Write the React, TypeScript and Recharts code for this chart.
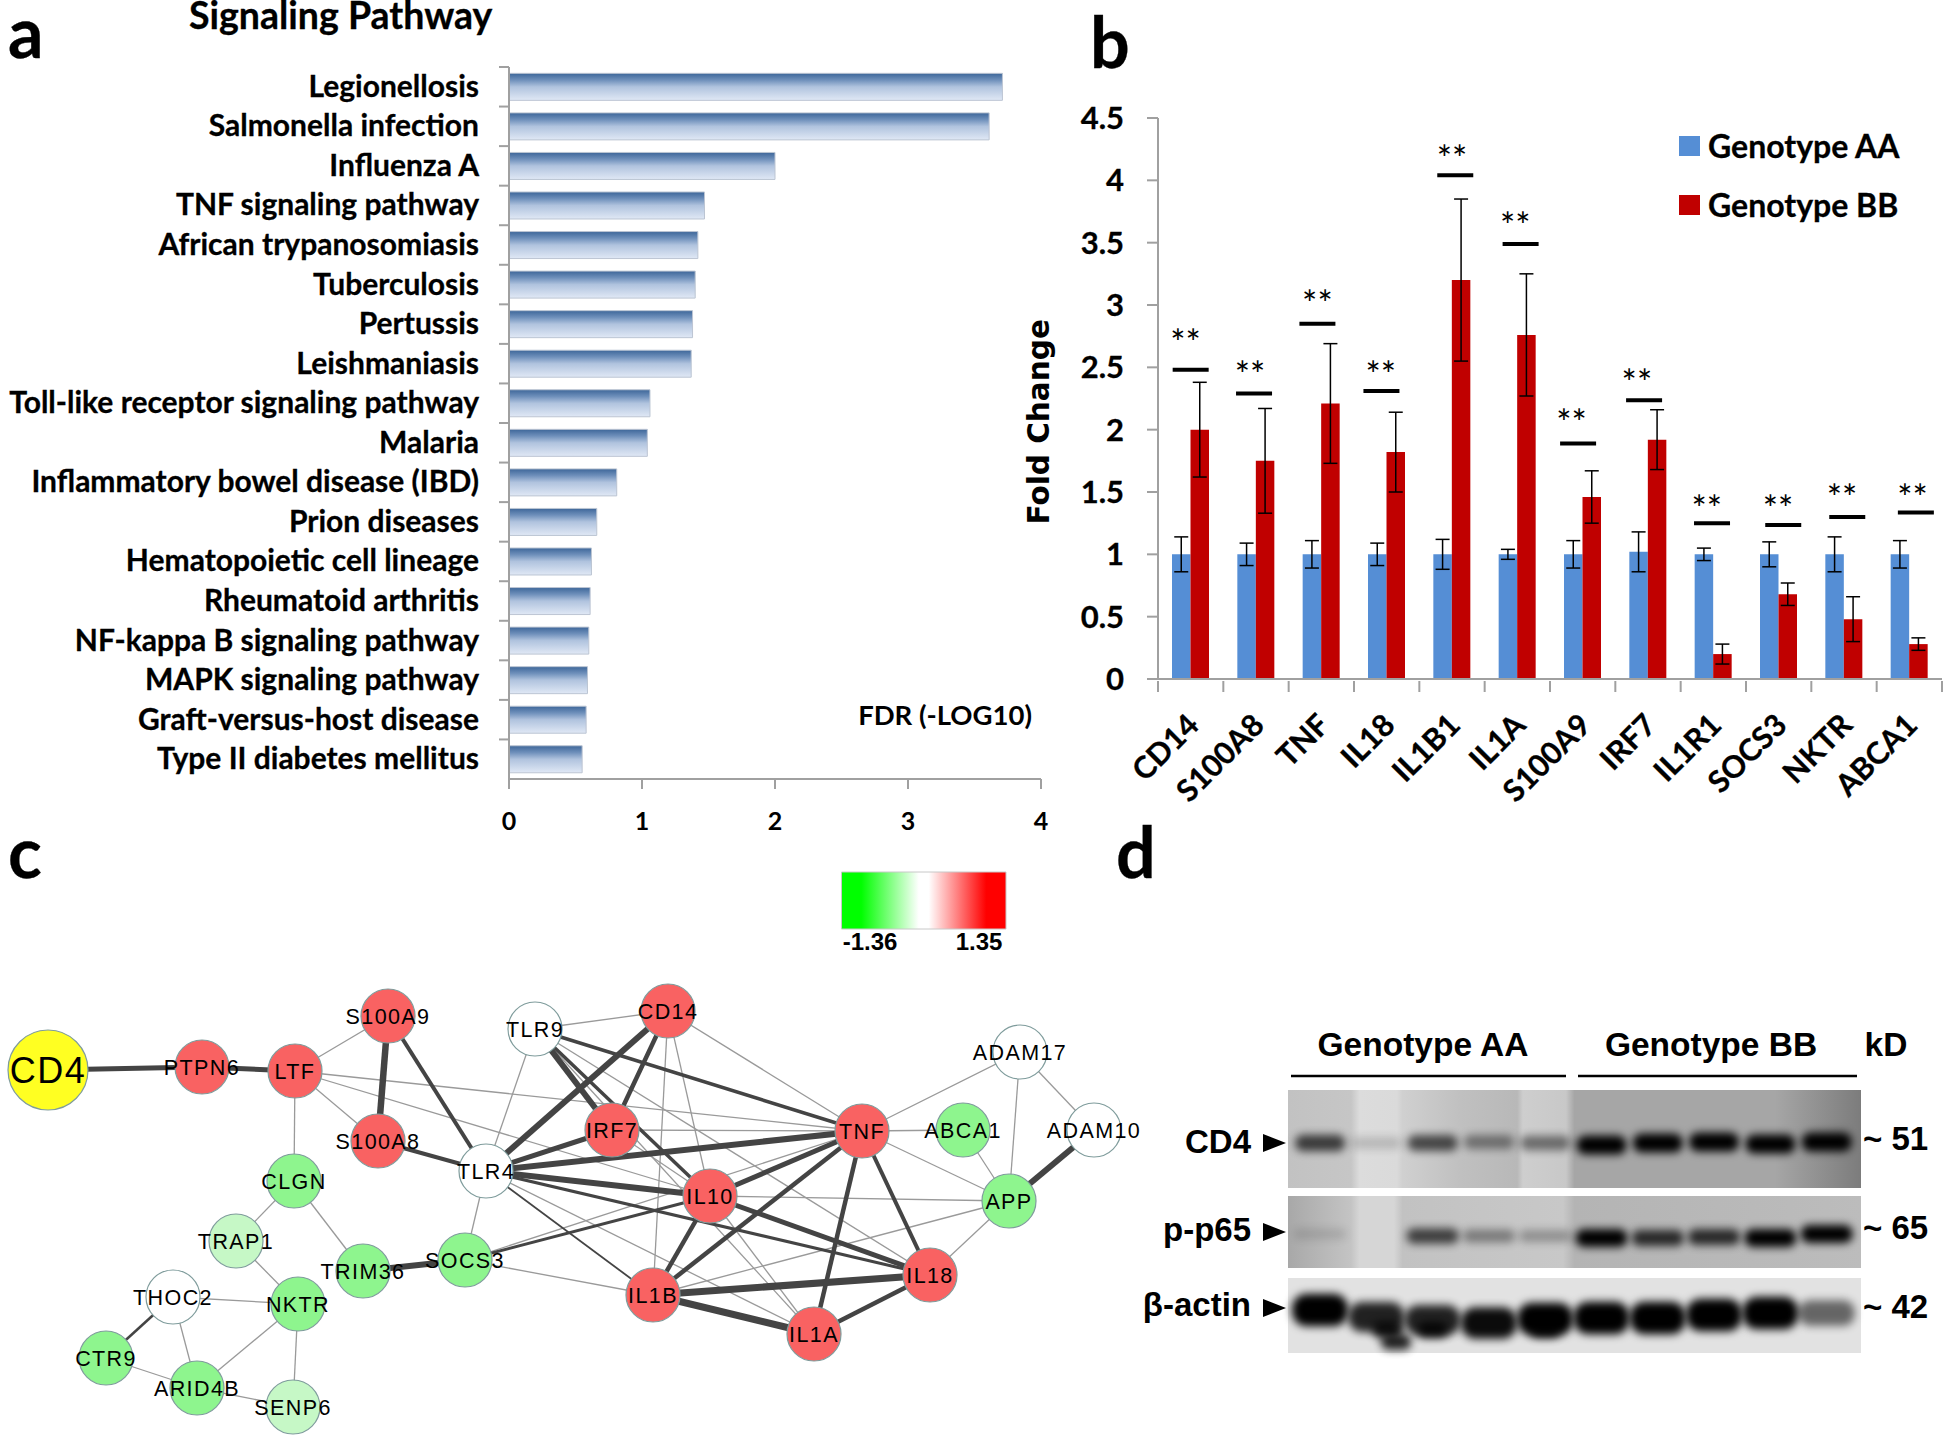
import React from 'react';
import {
  BarChart, Bar, XAxis, YAxis, ErrorBar, Legend, ScatterChart, Scatter, ReferenceArea,
} from 'recharts';

// ---------- panel a ----------
const pathways = ['Legionellosis','Salmonella infection','Influenza A','TNF signaling pathway','African trypanosomiasis','Tuberculosis','Pertussis','Leishmaniasis','Toll-like receptor signaling pathway','Malaria','Inflammatory bowel disease (IBD)','Prion diseases','Hematopoietic cell lineage','Rheumatoid arthritis','NF-kappa B signaling pathway','MAPK signaling pathway','Graft-versus-host disease','Type II diabetes mellitus'];
const fdr = [3.71,3.61,2.0,1.47,1.42,1.4,1.38,1.37,1.06,1.04,0.81,0.66,0.62,0.61,0.6,0.59,0.58,0.55];
const fdrTicks = [0,1,2,3,4];

// ---------- panel b ----------
const genes = ['CD14','S100A8','TNF','IL18','IL1B1','IL1A','S100A9','IRF7','IL1R1','SOCS3','NKTR','ABCA1'];
const aaValues = [1,1,1,1,1,1,1,1.02,1,1,1,1];
const aaErrors = [0.14,0.09,0.11,0.09,0.12,0.04,0.11,0.16,0.05,0.1,0.14,0.11];
const bbValues = [2.0,1.75,2.21,1.82,3.2,2.76,1.46,1.92,0.2,0.68,0.48,0.28];
const bbErrors = [0.38,0.42,0.48,0.32,0.65,0.49,0.21,0.24,0.08,0.09,0.18,0.05];
const foldTicks = [0,0.5,1,1.5,2,2.5,3,3.5,4,4.5];
const sigX = [0.5,1.47,2.44,3.42,4.55,5.55,6.43,7.44,8.48,9.57,10.55,11.6];
const sigY = [2.48,2.29,2.85,2.31,4.04,3.49,1.89,2.235,1.25,1.235,1.3,1.335];
const starX = [0.42,1.41,2.44,3.41,4.5,5.47,6.33,7.33,8.4,9.49,10.47,11.55];
const starY = [2.74,2.49,3.06,2.49,4.22,3.68,2.1,2.42,1.41,1.41,1.5,1.5];

// ---------- panel c ----------
const nodeNames = ['CD4','PTPN6','LTF','S100A9','S100A8','TLR9','TLR4','CLGN','TRAP1','TRIM36','SOCS3','THOC2','NKTR','CTR9','ARID4B','SENP6','CD14','IRF7','TNF','ABCA1','ADAM17','ADAM10','APP','IL10','IL18','IL1B','IL1A'];
const nodeX = [48,202,295,388,378,535,486,294,236,363,465,173,298,106,197,293,668,612,862,963,1020,1094,1009,710,930,653,814];
const nodeY = [1070,1067,1071,1016,1141,1029,1171,1181,1241,1271,1260,1297,1304,1358,1388,1407,1011,1130,1131,1130,1052,1130,1201,1196,1275,1295,1334];
const nodeColors = ['#ffff22','#f96262','#f96262','#f96262','#f96262','#ffffff','#ffffff','#8ef58e','#c6f8c6','#8ef58e','#8ef58e','#ffffff','#8ef58e','#8ef58e','#8ef58e','#c6f8c6','#f96262','#f96262','#f96262','#8ef58e','#ffffff','#ffffff','#8ef58e','#f96262','#f96262','#f96262','#f96262'];
const heavyEdges: [string,string,number][] = [
  ['CD4','PTPN6',5],['PTPN6','LTF',5],['S100A9','S100A8',6.5],['S100A9','TLR4',4],['S100A8','TLR4',4],
  ['TLR4','CD14',6],['TLR4','IRF7',5],['TLR4','TNF',6],['TLR4','IL10',6],['TLR4','IL18',3],['TLR4','IL1B',1.8],
  ['TLR9','IRF7',6],['TLR9','IL10',3.5],['TLR9','TNF',3.5],['CD14','IRF7',4.5],['IL10','TNF',5],['IL10','IL1B',4.5],
  ['IL10','IL18',5],['TNF','IL1B',4.5],['TNF','IL1A',4.5],['TNF','IL18',4],['IL1B','IL18',7],['IL1B','IL1A',7],
  ['IL1A','IL18',4.5],['IL10','SOCS3',3],['TRIM36','SOCS3',6],['APP','ADAM10',6],['THOC2','CTR9',2.5],
];
const lightEdges: [string,string][] = [
  ['LTF','S100A9'],['LTF','S100A8'],['LTF','CLGN'],['LTF','TNF'],['LTF','IL10'],['TLR9','TLR4'],['TLR9','CD14'],
  ['TLR9','IL18'],['TLR9','IL1A'],['TLR4','SOCS3'],['TLR4','IL1A'],['TLR4','IL18'],['SOCS3','IL1B'],['SOCS3','TNF'],
  ['CD14','IL1B'],['CD14','IL10'],['CD14','TNF'],['IRF7','TNF'],['IRF7','IL10'],['TNF','ADAM17'],['TNF','ABCA1'],
  ['TNF','APP'],['ABCA1','APP'],['ADAM17','APP'],['ADAM17','ADAM10'],['APP','IL10'],['APP','IL1B'],['APP','IL18'],
  ['IL10','IL1A'],['CLGN','TRAP1'],['CLGN','TRIM36'],['TRAP1','NKTR'],['THOC2','NKTR'],['THOC2','ARID4B'],
  ['NKTR','ARID4B'],['NKTR','SENP6'],['CTR9','ARID4B'],['ARID4B','SENP6'],
];

// ---------- panel d ----------
const lanes = [1,2,3,4,5,6,7,8,9,10];
const cd4Band = [0.7,0.16,0.65,0.42,0.48,1,1,1,1,1];
const cd4BandY = [1143,1143,1143,1142,1143,1145,1143,1142,1144,1142];
const p65Band = [0.12,0,0.68,0.38,0.28,1,0.78,0.78,1,1];
const p65BandY = [1234,1234,1236,1236,1236,1238,1238,1237,1238,1234];
const actinBand = [1,0.85,0.85,0.95,1,1,1,1,1,0.55];
const actinBandY = [1310,1317,1320,1323,1319,1318,1318,1315,1313,1313];
const actinSmearLane = [2.2,2.35,3.0,5.0];
const actinSmearY = [1330,1342,1330,1330];

const LATO = 'Lato, sans-serif';
const ARIAL = '"Liberation Sans", Arial, sans-serif';
const pathwayRows = pathways.map((name, i) => ({ name, value: fdr[i] }));
const geneRows = genes.map((name, i) => ({ name, aa: aaValues[i], aaErr: aaErrors[i], bb: bbValues[i], bbErr: bbErrors[i] }));
const sigRows = sigX.map((x, i) => ({ x, y: sigY[i] }));
const starRows = starX.map((x, i) => ({ x, y: starY[i] }));

const BAND_A = 712 / 18;
const BAND_B = 784 / 12;

const PathwayTick = (p: any) => (
  <g>
    <line x1={p.x} x2={p.x - 10} y1={p.y - BAND_A / 2} y2={p.y - BAND_A / 2} stroke="#a0a0a0" strokeWidth={2} />
    <text x={p.x - 30} y={p.y + 10} textAnchor="end" fontFamily={LATO} fontWeight={700} fontSize={30} stroke="#000" strokeWidth={0.3} fill="#000">{p.payload.value}</text>
  </g>
);
const GeneTick = (p: any) => (
  <g>
    <line x1={p.x - BAND_B / 2} x2={p.x - BAND_B / 2} y1={p.y} y2={p.y + 11} stroke="#a0a0a0" strokeWidth={2} />
    {p.index === genes.length - 1 && <line x1={p.x + BAND_B / 2} x2={p.x + BAND_B / 2} y1={p.y} y2={p.y + 11} stroke="#a0a0a0" strokeWidth={2} />}
    <text x={p.x + 10} y={p.y + 46} textAnchor="end" transform={`rotate(-45 ${p.x + 10} ${p.y + 46})`} fontFamily={LATO} fontWeight={700} fontSize={30.5} stroke="#000" strokeWidth={0.3} fill="#000">{p.payload.value}</text>
  </g>
);
const SigLine = (p: any) => <line x1={p.cx - 18} x2={p.cx + 18} y1={p.cy} y2={p.cy} stroke="#000" strokeWidth={4} />;
const SigStars = (p: any) => <text x={p.cx} y={p.cy + 19} textAnchor="middle" fontFamily={LATO} fontSize={36} fill="#000">**</text>;
const NodeMark = (p: any) => {
  const big = p.payload.name === 'CD4';
  return (
    <g>
      <circle cx={p.cx} cy={p.cy} r={big ? 40 : 27} fill={p.payload.color} stroke="#7f9c9c" strokeWidth={1.2} />
      <text x={p.cx} y={p.cy + (big ? 13 : 8)} textAnchor="middle" fontFamily={ARIAL} fontSize={big ? 36 : 21.5} letterSpacing={big ? 1.5 : 1.4} fill="#000">{p.payload.name}</text>
    </g>
  );
};
const BlotBand = (h: number, w: number) => (p: any) => {
  const a = p.payload.a;
  const bh = h * (0.65 + 0.55 * a);
  return <rect x={p.cx - w / 2} y={p.cy - bh / 2} width={w} height={bh} rx={bh / 2.2} fill="#000" opacity={a} filter="url(#blotBlur)" />;
};
const LegendBox = () => (
  <div style={{ fontFamily: LATO, fontWeight: 700, fontSize: 32, color: '#000', WebkitTextStroke: '0.3px #000' }}>
    {[['Genotype AA', '#558ed5'], ['Genotype BB', '#c00000']].map(([t, c]) => (
      <div key={t} style={{ display: 'flex', alignItems: 'center', height: 59 }}>
        <span style={{ width: 21, height: 20, background: c, marginRight: 8 }} />{t}
      </div>
    ))}
  </div>
);
const Caption = ({ x, base, size, lh, children }: any) => (
  <div style={{ position: 'absolute', left: x, top: base - (lh - size * 1.2) / 2 - size * 0.987, fontFamily: LATO, fontWeight: 700, fontSize: size, lineHeight: `${lh}px`, color: '#000', whiteSpace: 'nowrap', WebkitTextStroke: '0.3px #000' }}>{children}</div>
);

const edgeLine = (a: string, b: string, w: number, stroke: string, key: string) => {
  const i = nodeNames.indexOf(a); const j = nodeNames.indexOf(b);
  return (
    <Scatter key={key} data={[{ x: nodeX[i], y: nodeY[i] }, { x: nodeX[j], y: nodeY[j] }]}
      line={{ stroke, strokeWidth: w }} shape={() => <g />} isAnimationActive={false} />
  );
};
const nodeRows = nodeNames.map((name, i) => ({ name, x: nodeX[i], y: nodeY[i], color: nodeColors[i] }));
const bandRows = (a: number[], y: number[]) => lanes.map((x, i) => ({ x, y: y[i], a: a[i] }));

const abs = (l: number, t: number, w: number, h: number): React.CSSProperties => ({ position: 'absolute', left: l, top: t, width: w, height: h });

export default function App() {
  return (
    <div style={{ position: 'absolute', left: 0, top: 0, width: 1946, height: 1448, background: '#fff', overflow: 'hidden' }}>
      {/* panel a */}
      <div style={abs(0, 0, 1060, 840)}>
        <BarChart width={1060} height={840} data={pathwayRows} layout="vertical" barCategoryGap="16%"
          margin={{ top: 67, bottom: 31, left: 0, right: 19 }}>
          <defs>
            <linearGradient id="barA" x1="0" y1="0" x2="0" y2="1">
              <stop offset="0" stopColor="#3d6699" />
              <stop offset="0.25" stopColor="#6f90bb" />
              <stop offset="0.5" stopColor="#b0c3de" />
              <stop offset="1" stopColor="#e0e8f5" />
            </linearGradient>
          </defs>
          <XAxis type="number" domain={[0, 4]} ticks={fdrTicks} stroke="#a0a0a0" strokeWidth={2} tickSize={10} tickMargin={23}
            tick={{ fontFamily: LATO, fontWeight: 700, fontSize: 25, fill: '#000' }} />
          <YAxis type="category" dataKey="name" width={509} interval={0} tickLine={false} tickSize={0} tickMargin={0}
            stroke="#a0a0a0" strokeWidth={2} tick={PathwayTick} />
          <Bar dataKey="value" fill="url(#barA)" stroke="#bcc5d3" strokeWidth={1} isAnimationActive={false} />
        </BarChart>
      </div>

      {/* panel b */}
      <div style={abs(1000, 60, 946, 780)}>
        <BarChart width={946} height={780} data={geneRows} barGap={0} barSize={18.5}
          margin={{ top: 58, bottom: 101, left: 0, right: 4 }}>
          <XAxis dataKey="name" interval={0} height={60} tickLine={false} tickSize={0} stroke="#a0a0a0" strokeWidth={2} tick={GeneTick} />
          <YAxis domain={[0, 4.5]} ticks={foldTicks} width={158} stroke="#a0a0a0" strokeWidth={2} tickSize={11} tickMargin={23}
            tick={{ fontFamily: LATO, fontWeight: 700, fontSize: 31, fill: '#000', stroke: '#000', strokeWidth: 0.3 }}
            label={{ value: 'Fold Change', angle: -90, position: 'insideLeft', dx: 34, dy: 126,
              style: { fontFamily: '"DejaVu Sans", sans-serif', fontWeight: 700, fontSize: 29.5, fill: '#000' } }} />
          <Legend layout="vertical" align="center" verticalAlign="middle" content={LegendBox}
            wrapperStyle={{ left: 679, top: 56, width: 260 }} />
          <Bar dataKey="aa" name="Genotype AA" fill="#558ed5" isAnimationActive={false}>
            <ErrorBar dataKey="aaErr" width={7} stroke="#000" strokeWidth={1.5} isAnimationActive={false} />
          </Bar>
          <Bar dataKey="bb" name="Genotype BB" fill="#c00000" isAnimationActive={false}>
            <ErrorBar dataKey="bbErr" width={7} stroke="#000" strokeWidth={1.5} isAnimationActive={false} />
          </Bar>
        </BarChart>
      </div>
      <div style={abs(1000, 60, 946, 780)}>
        <ScatterChart width={946} height={780} margin={{ top: 58, bottom: 161, left: 158, right: 4 }}>
          <XAxis type="number" dataKey="x" domain={[0, 12]} hide />
          <YAxis type="number" dataKey="y" domain={[0, 4.5]} hide />
          <Scatter data={sigRows} shape={SigLine} isAnimationActive={false} />
          <Scatter data={starRows} shape={SigStars} isAnimationActive={false} />
        </ScatterChart>
      </div>

      {/* panel c */}
      <div style={abs(0, 840, 1200, 608)}>
        <ScatterChart width={1200} height={608} margin={{ top: 0, bottom: 0, left: 0, right: 0 }}>
          <defs>
            <linearGradient id="heat" x1="0" y1="0" x2="1" y2="0">
              <stop offset="0" stopColor="#00ff00" />
              <stop offset="0.12" stopColor="#00ff00" />
              <stop offset="0.47" stopColor="#ffffff" />
              <stop offset="0.53" stopColor="#ffffff" />
              <stop offset="0.88" stopColor="#ff0000" />
              <stop offset="1" stopColor="#ff0000" />
            </linearGradient>
          </defs>
          <XAxis type="number" dataKey="x" domain={[0, 1200]} hide />
          <YAxis type="number" dataKey="y" domain={[840, 1448]} reversed hide />
          <ReferenceArea x1={841.5} x2={1006} y1={872} y2={929} fill="url(#heat)" fillOpacity={1} stroke="#c8c8c8" />
          {lightEdges.map(([a, b], i) => edgeLine(a, b, 1.3, '#9a9a9a', `l${i}`))}
          {heavyEdges.map(([a, b, w], i) => edgeLine(a, b, w, '#444444', `h${i}`))}
          <Scatter data={nodeRows} shape={NodeMark} isAnimationActive={false} />
        </ScatterChart>
      </div>

      {/* panel d */}
      <div style={abs(1130, 1010, 816, 370)}>
        <ScatterChart width={816} height={370} margin={{ top: 80, bottom: 27, left: 158, right: 85 }}>
          <defs>
            <filter id="blotBlur" x="-40%" y="-150%" width="180%" height="400%">
              <feGaussianBlur stdDeviation="4.2" />
            </filter>
            <linearGradient id="bgCd4" x1="0" y1="0" x2="1" y2="0">
              <stop offset="0" stopColor="#c2c2c2" />
              <stop offset="0.11" stopColor="#c6c6c6" />
              <stop offset="0.125" stopColor="#dcdcdc" />
              <stop offset="0.19" stopColor="#dadada" />
              <stop offset="0.2" stopColor="#d0d0d0" />
              <stop offset="0.3" stopColor="#c0c0c0" />
              <stop offset="0.4" stopColor="#b8b8b8" />
              <stop offset="0.41" stopColor="#cecece" />
              <stop offset="0.485" stopColor="#c8c8c8" />
              <stop offset="0.5" stopColor="#a6a6a6" />
              <stop offset="0.85" stopColor="#a6a6a6" />
              <stop offset="1" stopColor="#7c7c7c" />
            </linearGradient>
            <linearGradient id="bgP65" x1="0" y1="0" x2="1" y2="0">
              <stop offset="0" stopColor="#a8a8a8" />
              <stop offset="0.11" stopColor="#c4c4c4" />
              <stop offset="0.125" stopColor="#d6d6d6" />
              <stop offset="0.185" stopColor="#d6d6d6" />
              <stop offset="0.2" stopColor="#c2c2c2" />
              <stop offset="0.48" stopColor="#c8c8c8" />
              <stop offset="0.5" stopColor="#b4b4b4" />
              <stop offset="1" stopColor="#bcbcbc" />
            </linearGradient>
          </defs>
          <XAxis type="number" dataKey="x" domain={[0.43, 10.61]} hide />
          <YAxis type="number" dataKey="y" domain={[1090, 1353]} reversed hide />
          <ReferenceArea x1={0.43} x2={10.61} y1={1090} y2={1188} fill="url(#bgCd4)" fillOpacity={1} />
          <ReferenceArea x1={0.43} x2={10.61} y1={1196} y2={1268} fill="url(#bgP65)" fillOpacity={1} />
          <ReferenceArea x1={0.43} x2={10.61} y1={1278} y2={1353} fill="#e2e2e2" fillOpacity={1} />
          <Scatter data={bandRows(cd4Band, cd4BandY)} shape={BlotBand(16, 50)} isAnimationActive={false} />
          <Scatter data={bandRows(p65Band, p65BandY)} shape={BlotBand(15, 52)} isAnimationActive={false} />
          <Scatter data={bandRows(actinBand, actinBandY)} shape={BlotBand(27, 56)} isAnimationActive={false} />
          <Scatter data={actinSmearLane.map((x, i) => ({ x, y: actinSmearY[i], a: 0.85 }))} shape={BlotBand(14, 30)} isAnimationActive={false} />
        </ScatterChart>
      </div>

      {/* free text */}
      <Caption x={8} base={58} size={70} lh={44}>a</Caption>
      <Caption x={1090} base={68} size={70} lh={56}>b</Caption>
      <Caption x={8} base={878} size={70} lh={44}>c</Caption>
      <Caption x={1116} base={878} size={70} lh={56}>d</Caption>
      <Caption x={189} base={30} size={37.5} lh={30}>Signaling Pathway</Caption>
      <svg width={1946} height={1448} style={{ position: 'absolute', left: 0, top: 0, pointerEvents: 'none' }}>
        <text x={1032} y={725} fontSize={27.5} textAnchor="end" fontFamily={LATO} fontWeight={700} fill="#000">FDR (-LOG10)</text>
        <g fontFamily={ARIAL} fontWeight={700} fill="#000">
          <text x={870} y={950} fontSize={24} textAnchor="middle">-1.36</text>
          <text x={979} y={950} fontSize={24} textAnchor="middle">1.35</text>
          <text x={1423} y={1056} fontSize={33.5} textAnchor="middle">Genotype AA</text>
          <text x={1711} y={1056} fontSize={33.5} textAnchor="middle">Genotype BB</text>
          <text x={1886} y={1056} fontSize={33.5} textAnchor="middle">kD</text>
          <text x={1251} y={1153} fontSize={33} textAnchor="end">CD4</text>
          <text x={1251} y={1241} fontSize={33} textAnchor="end">p-p65</text>
          <text x={1251} y={1316} fontSize={33} textAnchor="end">β-actin</text>
          <text x={1863} y={1150} fontSize={33}>~ 51</text>
          <text x={1863} y={1239} fontSize={33}>~ 65</text>
          <text x={1863} y={1318} fontSize={33}>~ 42</text>
        </g>
        <line x1={1291} x2={1566} y1={1076} y2={1076} stroke="#000" strokeWidth={2.5} />
        <line x1={1578} x2={1857} y1={1076} y2={1076} stroke="#000" strokeWidth={2.5} />
        <path d="M1263 1134 L1286 1143 L1263 1152 Z M1263 1223 L1286 1232 L1263 1241 Z M1263 1299 L1286 1308 L1263 1317 Z" fill="#000" />
      </svg>
    </div>
  );
}
